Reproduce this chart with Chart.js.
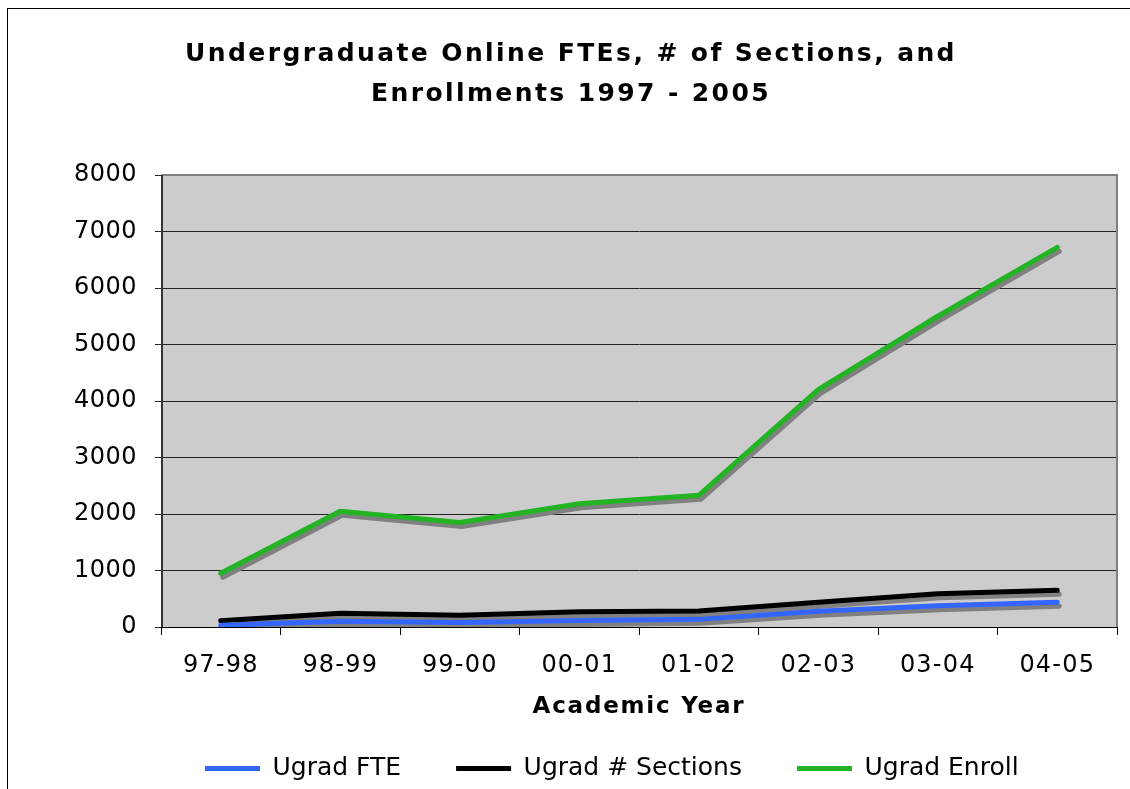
<!DOCTYPE html>
<html>
<head>
<meta charset="utf-8">
<script src="https://cdn.jsdelivr.net/npm/chart.js@4"></script>
<style>
  html, body { margin:0; padding:0; background:#fff; overflow:hidden; }
  #wrap { position:relative; width:1130px; height:789px; }
  #frame { position:absolute; left:7px; top:8px; width:1200px; height:900px;
           border-left:1px solid #000; border-top:1px solid #000; pointer-events:none; }
</style>
</head>
<body>
<div id="wrap">
  <canvas id="chart" width="1130" height="789"></canvas>
  <div id="frame"></div>
</div>
<script>
// ---------- data ----------
const years = ['97-98','98-99','99-00','00-01','01-02','02-03','03-04','04-05'];
const ugradFTE = [30, 100, 80, 115, 135, 280, 375, 440];
const ugradSections = [110, 245, 210, 270, 285, 440, 590, 650];
const ugradEnroll = [950, 2050, 1850, 2180, 2330, 4200, 5500, 6720];
const yTicks = [0,1000,2000,3000,4000,5000,6000,7000,8000];

const FONT = 'DejaVu Sans, Verdana, sans-serif';
const LEG_PAD = 55;

// gray plot area + border, legend placement
const plotBg = {
  id:'plotBg',
  beforeDraw(chart){
    const {ctx, chartArea:a} = chart;
    ctx.save();
    ctx.fillStyle = '#cccccc';
    ctx.fillRect(a.left, a.top, a.right-a.left, a.bottom-a.top);
    ctx.restore();
    // legend height is clamped, so move the items into the bottom strip
    const lg = chart.legend;
    if(lg){ lg.top = 756 - LEG_PAD; lg.left = 205 - LEG_PAD; }
  },
  afterDatasetsDraw(chart){
    const {ctx, chartArea:a} = chart;
    ctx.save();
    ctx.strokeStyle = '#808080';
    ctx.lineWidth = 2;
    ctx.beginPath();
    ctx.moveTo(a.left, a.top); ctx.lineTo(a.right, a.top); ctx.lineTo(a.right, a.bottom);
    ctx.stroke();
    ctx.strokeStyle = '#333';
    ctx.beginPath(); ctx.moveTo(a.left+1, a.top); ctx.lineTo(a.left+1, a.bottom); ctx.stroke();
    ctx.restore();
  }
};

// excel-like drop shadow under each series
const lineShadow = {
  id:'lineShadow',
  beforeDatasetDraw(chart){
    const ctx = chart.ctx;
    ctx.save();
    ctx.shadowColor = '#808080';
    ctx.shadowBlur = 0;
    ctx.shadowOffsetX = 2;
    ctx.shadowOffsetY = 4;
  },
  afterDatasetDraw(chart){ chart.ctx.restore(); }
};

// the original text is spread a bit wider than DejaVu
const spacing = {
  id:'spacing',
  afterLayout(chart){
    const wrap = (obj, fn, ls) => {
      if(!obj || obj['_ls_'+fn]) return;
      const orig = obj[fn];
      obj[fn] = function(...args){
        const c = this.ctx; const prev = c.letterSpacing;
        c.letterSpacing = ls; orig.apply(this, args); c.letterSpacing = prev;
      };
      obj['_ls_'+fn] = true;
    };
    wrap(chart.titleBlock, 'draw', '2.4px');
    wrap(chart.scales.x, 'drawLabels', '1.2px');
    wrap(chart.scales.y, 'drawLabels', '0.5px');
    wrap(chart.scales.x, 'drawTitle', '1.8px');
  }
};

const mk = (label, data, color) => ({
  label, data, borderColor: color, backgroundColor: color,
  borderWidth: 5, pointRadius: 0, pointHoverRadius: 0, tension: 0,
  borderCapStyle:'round', borderJoinStyle:'round', pointStyle:'line'
});

new Chart(document.getElementById('chart').getContext('2d'), {
  type:'line',
  data:{
    labels: years,
    datasets:[
      mk('Ugrad FTE', ugradFTE, '#3366ff'),
      mk('Ugrad # Sections', ugradSections, '#000000'),
      mk('Ugrad Enroll', ugradEnroll, '#22b422')
    ]
  },
  options:{
    responsive:false,
    animation:false,
    layout:{ padding:{left:25, right:13, top:0, bottom:0} },
    plugins:{
      title:{
        display:true,
        text:['Undergraduate Online FTEs, # of Sections, and','Enrollments 1997 - 2005'],
        color:'#000',
        font:{family:FONT, size:25, weight:'bold', lineHeight:1.6},
        padding:{top:34, bottom:61}
      },
      legend:{
        position:'bottom',
        align:'start',
        maxHeight:45,
        labels:{
          usePointStyle:true, pointStyleWidth:55, padding:LEG_PAD,
          color:'#000', font:{family:FONT, size:25}
        }
      },
      tooltip:{enabled:false}
    },
    scales:{
      x:{
        offset:true,
        afterFit(s){ s.height = 117; },
        grid:{ drawOnChartArea:false, color:'#000', tickLength:8, offset:true },
        border:{ color:'#000', width:1 },
        ticks:{ color:'#000', font:{family:FONT, size:24}, padding:16, maxRotation:0 },
        title:{ display:true, text:'Academic Year', color:'#000',
                font:{family:FONT, size:23, weight:'bold'}, padding:{top:0, bottom:23} }
      },
      y:{
        min:0, max:8000,
        afterFit(s){ s.width = 136; },
        afterBuildTicks(s){ s.ticks = yTicks.map(v=>({value:v})); },
        grid:{ color:'#222', lineWidth:1, tickLength:6 },
        border:{ color:'#000', width:1 },
        ticks:{ color:'#000', font:{family:FONT, size:24}, padding:18,
                callback:(v)=>String(v) }
      }
    }
  },
  plugins:[plotBg, lineShadow, spacing]
});
</script>
</body>
</html>
